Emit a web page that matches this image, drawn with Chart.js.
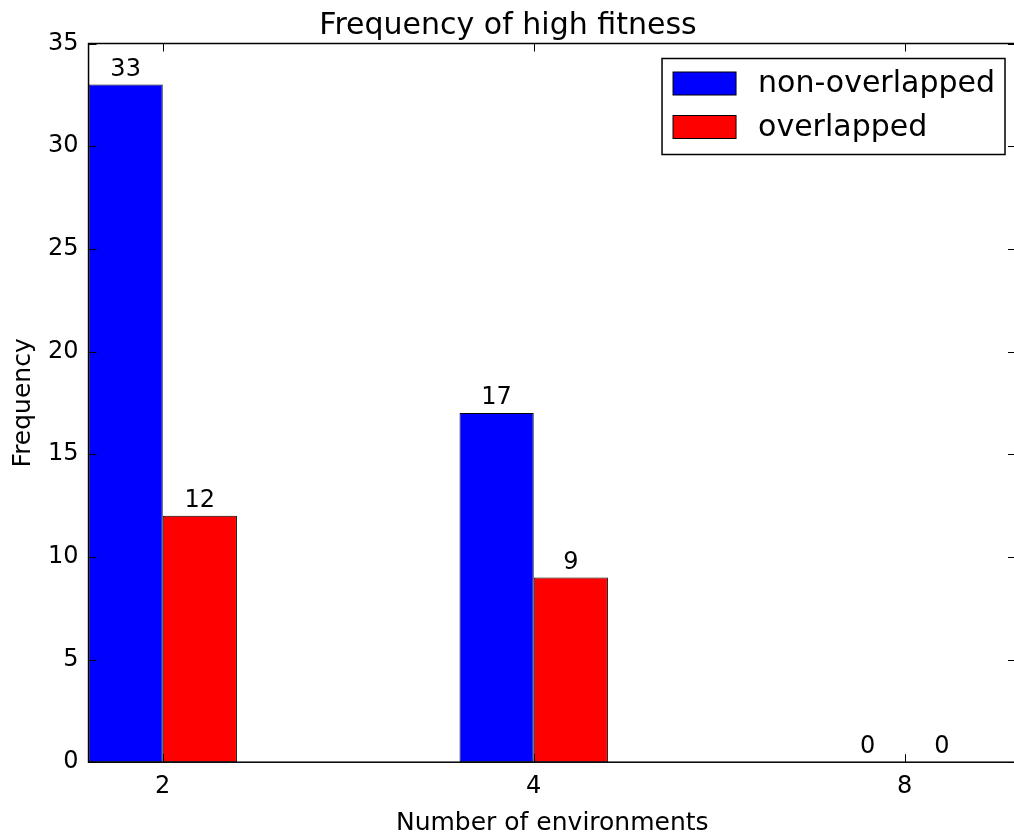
<!DOCTYPE html>
<html>
<head>
<meta charset="utf-8">
<title>Frequency of high fitness</title>
<script src="https://cdn.jsdelivr.net/npm/chart.js@4.4.0/dist/chart.umd.min.js"></script>
<style>
  html, body { margin: 0; padding: 0; background: #fff; overflow: hidden; }
  #wrap { width: 1020px; height: 838px; }
</style>
</head>
<body>
<div id="wrap"><canvas id="chart" width="1020" height="838"></canvas></div>
<script>
// === Data ===
const environments = ['2', '4', '8'];
const nonOverlapped = [33, 17, 0];
const overlapped = [12, 9, 0];
const yTickValues = [0, 5, 10, 15, 20, 25, 30, 35];

const FONT = 'DejaVu Sans';
const toPoints = arr => arr.map((v, i) => ({ x: i, y: v }));

// frame, inner tick marks, bar value labels and the in-axes legend
const framePlugin = {
  id: 'frame',
  afterDatasetsDraw(chart) {
    const { ctx, chartArea: a, scales } = chart;
    const tick = 8;
    ctx.save();

    // value labels above each bar
    ctx.fillStyle = '#000';
    ctx.font = `24px "${FONT}"`;
    ctx.textAlign = 'center';
    ctx.textBaseline = 'bottom';
    chart.data.datasets.forEach((ds, di) => {
      chart.getDatasetMeta(di).data.forEach((bar, i) => {
        ctx.fillText(String(ds.data[i].y), bar.x, bar.y - 3);
      });
    });

    // spines
    ctx.strokeStyle = '#000';
    ctx.lineWidth = 1.5;
    ctx.strokeRect(a.left, a.top, a.right - a.left, a.bottom - a.top);

    // inward ticks on all four sides
    ctx.lineWidth = 1;
    ctx.beginPath();
    scales.y.ticks.forEach(t => {
      const y = Math.round(scales.y.getPixelForValue(t.value)) + 0.5;
      ctx.moveTo(a.left, y); ctx.lineTo(a.left + tick, y);
      ctx.moveTo(a.right, y); ctx.lineTo(a.right - tick, y);
    });
    scales.x.ticks.forEach(t => {
      const x = Math.round(scales.x.getPixelForValue(t.value)) + 0.5;
      ctx.moveTo(x, a.top); ctx.lineTo(x, a.top + tick);
      ctx.moveTo(x, a.bottom); ctx.lineTo(x, a.bottom - tick);
    });
    ctx.stroke();

    // legend box, upper right inside the axes
    ctx.font = `30px "${FONT}"`;
    const labels = chart.data.datasets.map(d => d.label);
    const textW = Math.max(...labels.map(l => ctx.measureText(l).width));
    const sw = 63, sh = 23, padL = 11, gap = 22, padR = 10;
    const boxW = padL + sw + gap + textW + padR;
    const boxH = 96;
    const bx = a.right - 11 - boxW;
    const by = a.top + 15;
    ctx.fillStyle = '#fff';
    ctx.fillRect(bx, by, boxW, boxH);
    ctx.lineWidth = 1.5;
    ctx.strokeRect(bx, by, boxW, boxH);
    ctx.textAlign = 'left';
    ctx.textBaseline = 'middle';
    chart.data.datasets.forEach((ds, i) => {
      const cy = by + 25 + i * 43.5;
      ctx.fillStyle = ds.backgroundColor;
      ctx.fillRect(bx + padL, cy - sh / 2, sw, sh);
      ctx.lineWidth = 1;
      ctx.strokeRect(bx + padL, cy - sh / 2, sw, sh);
      ctx.fillStyle = '#000';
      ctx.fillText(ds.label, bx + padL + sw + gap, cy + 1);
    });

    ctx.restore();
  }
};

new Chart(document.getElementById('chart'), {
  type: 'bar',
  data: {
    datasets: [{
      label: 'non-overlapped',
      data: toPoints(nonOverlapped),
      backgroundColor: '#0000ff',
      borderColor: '#000',
      borderWidth: 1,
      borderSkipped: false
    }, {
      label: 'overlapped',
      data: toPoints(overlapped),
      backgroundColor: '#ff0000',
      borderColor: '#000',
      borderWidth: 1,
      borderSkipped: false
    }]
  },
  options: {
    responsive: false,
    animation: false,
    devicePixelRatio: 1,
    categoryPercentage: 0.4,
    barPercentage: 1,
    layout: { padding: { left: 0, right: 4, top: 0, bottom: 2 } },
    scales: {
      x: {
        type: 'linear',
        min: -0.2,
        max: 2.3,
        offset: false,
        afterBuildTicks: s => { s.ticks = environments.map((_, i) => ({ value: i })); },
        grid: { display: false, drawTicks: false },
        border: { display: false },
        ticks: {
          callback: v => environments[v],
          color: '#000',
          font: { family: FONT, size: 24 },
          padding: 10,
          maxRotation: 0,
          autoSkip: false
        },
        title: {
          display: true,
          text: 'Number of environments',
          color: '#000',
          font: { family: FONT, size: 25, lineHeight: 1.0 },
          padding: { top: 0, bottom: 0 }
        }
      },
      y: {
        min: 0,
        max: 35,
        afterBuildTicks: s => { s.ticks = yTickValues.map(v => ({ value: v })); },
        grid: { display: false, drawTicks: false },
        border: { display: false },
        ticks: {
          color: '#000',
          font: { family: FONT, size: 24 },
          padding: 10
        },
        title: {
          display: true,
          text: 'Frequency',
          color: '#000',
          font: { family: FONT, size: 25 },
          padding: { top: 8, bottom: 0 }
        }
      }
    },
    plugins: {
      legend: { display: false },
      tooltip: { enabled: false },
      title: {
        display: true,
        text: 'Frequency of high fitness',
        color: '#000',
        font: { family: FONT, size: 30, weight: 'normal', lineHeight: 1.15 },
        padding: { top: 9, bottom: 0 }
      }
    }
  },
  plugins: [framePlugin]
});
</script>
</body>
</html>
